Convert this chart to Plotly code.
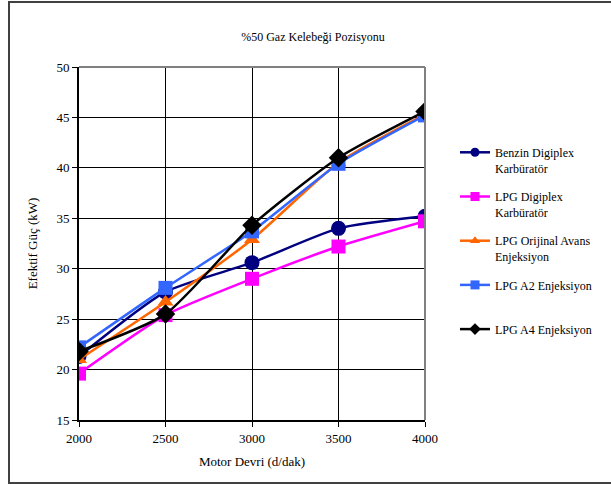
import plotly.graph_objects as go

rpm = [2000, 2500, 3000, 3500, 4000]
benzin_digiplex = [21.3, 27.7, 30.6, 34.0, 35.2]
lpg_digiplex = [19.6, 25.4, 29.0, 32.2, 34.7]
lpg_orijinal = [21.0, 26.7, 32.9, 40.5, 45.3]
lpg_a2 = [22.2, 28.1, 33.7, 40.4, 45.2]
lpg_a4 = [21.8, 25.5, 34.3, 41.0, 45.6]

series = [
    ("Benzin Digiplex<br>Karbüratör", benzin_digiplex, "#000080", "circle", 15),
    ("LPG Digiplex<br>Karbüratör", lpg_digiplex, "#FF00FF", "square", 14),
    ("LPG Orijinal Avans<br>Enjeksiyon", lpg_orijinal, "#FF6600", "triangle-up", 14),
    ("LPG A2 Enjeksiyon<br> ", lpg_a2, "#3366FF", "square", 14),
    ("LPG A4 Enjeksiyon<br> ", lpg_a4, "#000000", "diamond", 15),
]

fig = go.Figure()
for name, vals, color, sym, size in series:
    fig.add_trace(go.Scatter(
        x=rpm, y=vals, mode="lines+markers", name=name,
        line=dict(color=color, width=2.5, shape="spline", smoothing=0.6),
        marker=dict(symbol=sym, size=size, color=color, line=dict(width=0)),
        showlegend=False,
    ))
for i, (name, vals, color, sym, size) in enumerate(series):
    fig.add_trace(go.Scatter(
        x=[None], y=[None], mode="lines+markers", name=name,
        line=dict(color=color, width=2.5),
        marker=dict(symbol=sym, size=9, color=color),
        legendgroup="g%d" % i, showlegend=True,
    ))

font = "Liberation Serif, serif"
fig.update_layout(
    width=611, height=484,
    margin=dict(l=79, r=186, t=67, b=64),
    paper_bgcolor="white", plot_bgcolor="white",
    font=dict(family=font, size=13, color="black"),
    title=dict(text="%50 Gaz Kelebeği Pozisyonu", x=313 / 611, xanchor="center",
               y=1 - 37 / 484, yanchor="middle", font=dict(size=12, family=font)),
    xaxis=dict(range=[2000, 4000], tickvals=rpm, ticks="outside", ticklen=5,
               tickcolor="black", showline=True, linecolor="black", linewidth=2,
               showgrid=True, gridcolor="black", gridwidth=1, zeroline=False,
               mirror=False,
               title=dict(text="Motor Devri (d/dak)", font=dict(size=13, family=font), standoff=12),
               tickfont=dict(size=13, family=font)),
    yaxis=dict(range=[15, 50], dtick=5, ticks="outside", ticklen=5,
               tickcolor="black", showline=True, linecolor="black", linewidth=2,
               showgrid=True, gridcolor="black", gridwidth=1, zeroline=False,
               title=dict(text="Efektif Güç (kW)", font=dict(size=13, family=font), standoff=16),
               tickfont=dict(size=13, family=font)),
    legend=dict(x=455 / 611, xref="container", y=1 - 138 / 484, yref="container",
                xanchor="left", yanchor="top", valign="top",
                font=dict(size=12, family=font), tracegroupgap=10,
                bgcolor="rgba(0,0,0,0)", itemwidth=30),
)
# grey plot-area frame (top & right)
fig.add_shape(type="line", xref="paper", yref="paper", x0=0, x1=1, y0=1, y1=1,
              line=dict(color="#808080", width=2))
fig.add_shape(type="line", xref="paper", yref="paper", x0=1, x1=1, y0=0, y1=1,
              line=dict(color="#808080", width=2))
# outer chart border
fig.add_shape(type="rect", xref="paper", yref="paper",
              x0=(9 - 79) / 346, x1=(640 - 79) / 346,
              y0=(420 - 483) / 353, y1=(420 - 2) / 353,
              line=dict(color="#404040", width=2), layer="below")

fig.write_html("out.html")
